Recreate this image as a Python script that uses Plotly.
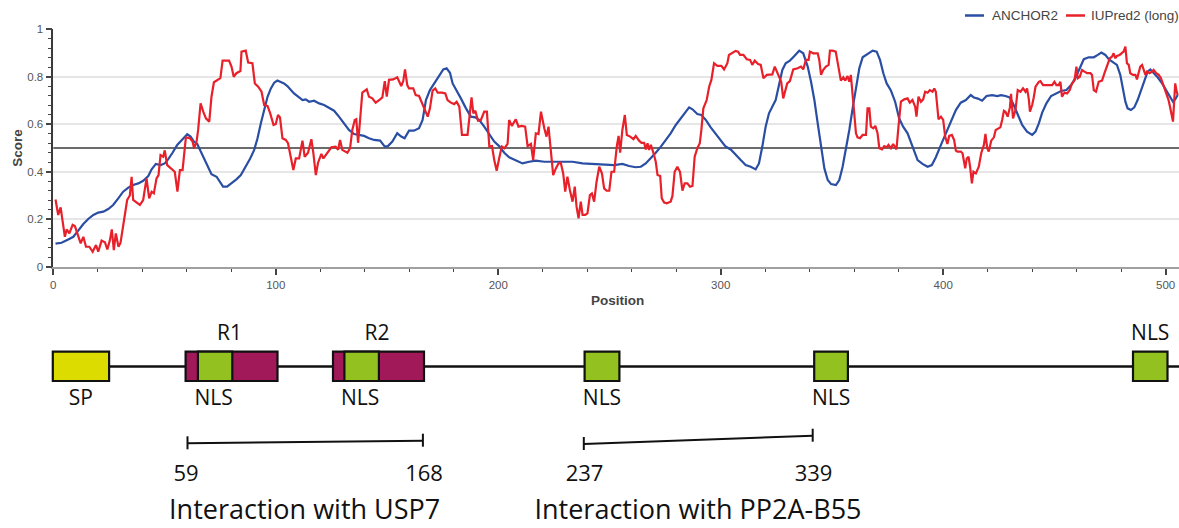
import plotly.graph_objects as go

W, H = 1179, 528

# ---------------- data ----------------
iupred_pos = [
    1.0, 2.2, 3.3, 4.2, 5.2, 6.0, 7.2, 8.7, 9.7, 10.8, 12.3, 13.5, 14.7, 16.2, 17.7, 19.2, 20.2, 21.7, 23.2, 24.3,
    25.4, 26.3, 27.2, 28.1, 29.3, 30.2, 31.7, 33.2, 34.4, 35.2, 35.9, 37.7, 38.9, 40.4, 41.9, 43.1, 44.2, 45.2, 46.4, 47.3,
    48.2, 49.4, 50.1, 51.2, 53.1, 54.6, 55.8, 56.9, 58.1, 59.6, 61.4, 62.6, 63.3, 64.4, 65.1, 66.2, 67.4, 68.6, 70.1, 71.1,
    72.2, 74.1, 75.1, 76.1, 79.0, 80.1, 81.1, 82.3, 84.1,
    84.6, 86.5, 87.6, 89.5, 90.6, 92.1, 93.6, 94.8, 96.3, 97.5, 99.0, 100.0, 101.0, 101.9, 103.0, 104.5, 105.5, 106.7, 107.9,
    109.0, 110.5, 112.0, 113.0, 114.5, 116.0, 116.9, 118.0, 119.0, 120.5, 121.4, 122.9, 125.0, 126.9, 128.0, 128.9, 129.9,
    132.2, 133.4, 134.4, 135.5, 136.2, 137.0, 137.9, 138.9, 140.9, 141.9, 143.4, 144.9, 146.9, 147.9, 149.0, 149.9, 150.9,
    152.8, 154.6, 155.4, 156.4, 157.3, 158.1, 159.1, 159.9, 161.8, 162.9, 164.4,
    167.2, 168.3, 169.3, 170.5, 171.7, 172.8, 174.7, 176.2, 177.2, 178.7, 180.2, 181.3, 182.5, 183.7, 186.2, 187.3, 188.0,
    188.8, 189.7, 190.9, 192.2, 193.7, 194.9, 196.0, 197.2, 198.2, 199.3, 200.4, 201.6, 202.8, 204.2, 204.9, 206.1, 207.9,
    209.1, 210.6, 212.1, 213.2, 214.7, 215.7, 216.9, 218.1, 219.2, 220.7, 221.7, 222.6, 223.7, 224.7, 225.9, 227.1, 228.1,
    229.2, 230.1, 231.1, 232.2, 233.4, 234.4, 235.2, 236.1, 237.1, 237.9, 239.1, 240.1, 241.2, 242.1, 243.1, 244.2, 245.4,
    246.6, 247.6, 248.7, 249.9,
    250.9, 252.1, 253.3, 254.1, 254.8, 255.8, 256.9, 257.8, 259.3, 260.8, 261.8, 263.3, 264.4, 265.6, 266.3, 267.1, 267.8,
    268.6, 269.8, 270.8, 271.6, 272.8, 273.5, 274.6, 275.7, 277.5, 278.3, 279.3, 280.5, 281.7, 282.8, 283.8, 285.0, 286.2,
    287.3, 288.3, 289.5, 290.6, 291.3, 292.2, 293.7, 294.8, 295.8, 297.0, 298.5, 300.3, 301.5, 303.0, 303.7, 305.2, 306.7,
    307.8, 308.7, 310.2, 311.7, 313.2, 314.2, 315.3, 316.8, 318.0, 319.2, 320.7, 322.2, 323.2, 324.3, 325.4, 326.5, 327.2,
    328.1, 329.2, 329.9, 331.1,
    332.6, 334.6, 336.1, 337.1, 338.3, 339.5, 340.1, 341.6, 343.6, 344.3, 345.1, 346.1, 347.3, 348.5, 349.1, 350.3, 351.7,
    352.5, 353.3, 354.0, 355.1, 356.0, 357.0, 357.8, 358.5, 359.3, 360.0, 360.8, 361.5, 362.6, 363.8, 365.3, 366.0, 366.8,
    367.5, 368.6, 369.5, 370.5, 371.3, 372.5, 373.5, 374.6, 375.4, 376.5, 377.5, 378.4, 379.0, 379.9, 381.0, 382.5, 384.0,
    385.0, 386.2, 387.4, 388.0, 388.9, 390.0, 391.0, 391.9, 393.0, 394.0, 395.2, 396.0, 396.7, 397.5, 397.9, 399.0, 400.0,
    400.9, 401.9, 402.7, 403.9, 404.9, 405.7, 406.4, 407.9, 408.7, 409.4, 409.9, 410.6, 411.4, 412.1, 412.9, 413.6, 414.7,
    416.0, 417.1, 418.3, 419.0, 419.8, 420.5, 421.6, 422.8, 423.6, 424.6, 425.7, 426.5, 427.3, 428.0, 429.0, 430.0, 430.5,
    431.4, 432.5, 433.5, 434.7, 435.9, 437.0, 437.7, 438.5, 439.0, 440.0, 440.7, 441.5, 443.0, 443.7, 444.9, 446.0, 447.5,
    449.0, 450.0, 450.9, 451.9, 452.7, 453.4, 454.5, 455.7, 456.9, 457.9, 459.0, 459.9, 460.5, 461.4, 462.4, 463.5, 464.7,
    466.2, 466.9, 467.7, 468.7, 469.9, 471.4, 472.5, 473.7, 474.9, 475.9, 476.6, 477.4, 478.1, 479.3, 480.4, 481.1, 481.9,
    482.6, 483.4, 484.1, 485.3, 486.4, 487.1, 487.9, 488.6, 489.4, 490.1, 490.9, 491.6, 492.8, 493.9, 494.6, 495.8, 496.9,
    497.9, 499.1, 500.3, 501.3, 502.1, 502.8, 503.3, 503.9, 504.3, 504.8, 505.4,
]
iupred_score = [
    0.283, 0.218, 0.25, 0.197, 0.126, 0.157, 0.14, 0.176, 0.171, 0.14, 0.098, 0.126, 0.084, 0.084, 0.063, 0.091, 0.063, 0.11, 0.103, 0.073,
    0.11, 0.157, 0.07, 0.14, 0.084, 0.1, 0.183, 0.281, 0.30, 0.379, 0.281, 0.267, 0.26, 0.281, 0.372, 0.288, 0.316, 0.309, 0.372, 0.386,
    0.47, 0.463, 0.49, 0.428, 0.414, 0.4, 0.316, 0.407, 0.407, 0.545, 0.541, 0.527, 0.499, 0.527, 0.576, 0.688, 0.653, 0.625, 0.611, 0.716,
    0.777, 0.787, 0.794, 0.868, 0.868, 0.843, 0.80, 0.815, 0.824,
    0.906, 0.91, 0.86, 0.857, 0.772, 0.758, 0.737, 0.681, 0.677, 0.646, 0.597, 0.601, 0.639, 0.629, 0.541, 0.534, 0.52, 0.461, 0.407,
    0.456, 0.456, 0.531, 0.463, 0.48, 0.537, 0.478, 0.386, 0.438, 0.475, 0.456, 0.478, 0.503, 0.506, 0.492, 0.534, 0.492,
    0.48, 0.499, 0.576, 0.618, 0.621, 0.522, 0.618, 0.733, 0.747, 0.716, 0.709, 0.691, 0.705, 0.713, 0.782, 0.716, 0.787,
    0.789, 0.798, 0.779, 0.761, 0.782, 0.831, 0.765, 0.751, 0.751, 0.723, 0.719,
    0.66, 0.632, 0.667, 0.742, 0.751, 0.733, 0.733, 0.73, 0.702, 0.691, 0.685, 0.695, 0.674, 0.555, 0.555, 0.649, 0.713,
    0.646, 0.657, 0.615, 0.618, 0.653, 0.653, 0.506, 0.508, 0.449, 0.404, 0.456, 0.506, 0.499, 0.517, 0.618, 0.593, 0.621,
    0.59, 0.593, 0.59, 0.508, 0.517, 0.449, 0.562, 0.559, 0.653, 0.583, 0.548, 0.59, 0.494, 0.386, 0.414, 0.435, 0.438,
    0.393, 0.316, 0.379, 0.323, 0.274, 0.337, 0.253, 0.204, 0.274, 0.218, 0.218, 0.225, 0.302, 0.309, 0.274, 0.358, 0.421,
    0.393, 0.33, 0.32, 0.32,
    0.4, 0.4, 0.508, 0.551, 0.48, 0.576, 0.639, 0.555, 0.548, 0.537, 0.551, 0.531, 0.522, 0.522, 0.494, 0.52, 0.492,
    0.513, 0.478, 0.442, 0.386, 0.382, 0.288, 0.27, 0.267, 0.274, 0.298, 0.4, 0.421, 0.4, 0.32, 0.351, 0.351, 0.337,
    0.34, 0.463, 0.499, 0.52, 0.576, 0.667, 0.702, 0.758, 0.787, 0.857, 0.846, 0.846, 0.831, 0.857, 0.892, 0.899, 0.909,
    0.906, 0.892, 0.892, 0.874, 0.871, 0.85, 0.868, 0.854, 0.85, 0.794, 0.808, 0.808, 0.81, 0.843, 0.817, 0.798, 0.779,
    0.709, 0.744, 0.772, 0.782,
    0.831, 0.836, 0.843, 0.831, 0.871, 0.871, 0.906, 0.899, 0.899, 0.871, 0.808, 0.829, 0.843, 0.85, 0.91, 0.91, 0.906,
    0.864, 0.829, 0.784, 0.798, 0.784, 0.803, 0.779, 0.808, 0.723, 0.653, 0.562, 0.545, 0.541, 0.555, 0.555, 0.667, 0.667,
    0.59, 0.583, 0.593, 0.562, 0.499, 0.494, 0.508, 0.503, 0.513, 0.499, 0.517, 0.499, 0.494, 0.59, 0.695, 0.705, 0.709,
    0.691, 0.702, 0.674, 0.632, 0.716, 0.695, 0.705, 0.737, 0.733, 0.744, 0.737, 0.751, 0.737, 0.66, 0.621, 0.632, 0.618,
    0.548, 0.517, 0.551, 0.555, 0.534, 0.489, 0.485, 0.485, 0.478, 0.449, 0.414, 0.456, 0.463, 0.421, 0.351, 0.4, 0.393,
    0.421, 0.478, 0.513, 0.559, 0.499, 0.485, 0.531, 0.545, 0.576, 0.583, 0.587, 0.618, 0.657, 0.653, 0.632, 0.671, 0.728,
    0.625, 0.66, 0.744, 0.737, 0.751, 0.737, 0.751, 0.705, 0.653, 0.681, 0.713, 0.758, 0.779, 0.782, 0.765, 0.765, 0.768,
    0.765, 0.779, 0.765, 0.765, 0.779, 0.716, 0.733, 0.73, 0.744, 0.772, 0.784, 0.843, 0.794, 0.80, 0.829, 0.822, 0.815,
    0.815, 0.808, 0.744, 0.737, 0.779, 0.784, 0.815, 0.843, 0.878, 0.885, 0.899, 0.878, 0.888, 0.892, 0.899, 0.906, 0.927,
    0.857, 0.85, 0.815, 0.808, 0.808, 0.789, 0.815, 0.843, 0.85, 0.829, 0.808, 0.822, 0.815, 0.822, 0.829, 0.815, 0.808,
    0.794, 0.758, 0.73, 0.702, 0.667, 0.625, 0.611, 0.709, 0.772, 0.744, 0.723,
]

anchor_pos = [
    1.0, 3.7, 6.7, 9.0, 11.2, 13.5, 15.7, 18.0, 20.2, 22.5, 24.7, 26.9, 29.2, 31.4, 33.7, 35.9, 38.2, 40.4, 42.7, 44.2,
    46.1, 48.2, 50.1, 51.6, 53.6, 55.7, 58.1, 60.2, 61.7, 63.2, 64.7, 66.6, 68.9, 71.1, 73.4, 74.9, 76.3, 78.1, 80.1, 82.3,
    84.3, 86.5, 88.5, 90.3, 91.8, 93.3, 94.8, 96.3, 97.8, 99.3, 100.7, 102.2, 103.7, 105.2, 106.7, 108.2, 110.5, 112.0,
    113.5, 115.0, 117.2, 119.5, 121.7, 124.0, 126.2, 128.4, 130.7, 132.9, 135.2, 137.4, 139.7, 141.9, 144.2, 146.9, 149.0,
    150.4, 152.4, 154.6, 156.4, 157.9, 159.9, 162.1, 164.4,
    166.0, 167.5, 169.3, 171.3, 173.2, 175.3, 176.8, 178.3, 179.5, 181.3, 183.2, 185.5, 187.7, 189.7, 191.5, 193.7, 196.0,
    198.2, 200.4, 202.7, 204.9, 207.9, 210.9, 213.9, 216.9, 220.7, 224.4, 228.9, 233.4, 237.9, 242.4, 246.9,
    252.1, 255.8, 258.8, 261.8, 264.1, 266.3, 268.6, 270.8, 273.1, 275.3, 277.5, 279.8, 282.0, 284.3, 285.8, 287.3, 289.5,
    291.3, 293.3, 295.5, 297.8, 300.0, 302.2, 304.5, 306.7, 309.0, 311.2, 313.5, 315.7, 317.2, 318.7, 320.2, 321.7, 323.2,
    324.7, 326.2, 327.7, 329.2, 331.1, 332.9,
    335.3, 337.1, 339.1, 340.6, 342.1, 343.6, 345.1, 346.6, 348.1, 349.6, 351.8, 353.3, 354.8, 356.3, 357.8, 359.3, 360.8,
    362.3, 363.8, 366.0, 368.3, 370.1, 371.6, 373.1, 374.6, 376.5, 378.4, 380.2, 382.0, 384.0, 385.5, 387.0, 388.5, 390.7,
    393.0, 394.9, 396.7, 399.0, 401.2, 403.4, 405.7, 407.9, 410.2, 412.4,
    413.8, 415.6, 417.5, 419.5, 422.0, 424.3, 426.0, 428.0, 429.9, 431.4, 433.2, 435.5, 437.7, 440.0, 441.5, 443.0, 444.5,
    446.4, 448.5, 450.9, 453.0, 455.4, 457.5, 459.4, 461.4, 463.2, 465.4, 467.7, 469.5, 471.1, 472.9, 474.4, 476.6, 478.1,
    479.6, 480.8, 481.9, 482.9, 484.4, 485.9, 487.4, 488.9, 490.4, 491.9, 493.1, 494.6, 496.4, 498.4, 500.3, 502.1, 503.3,
    504.3, 505.4,
]
anchor_score = [
    0.097, 0.101, 0.115, 0.126, 0.152, 0.18, 0.201, 0.218, 0.228, 0.232, 0.243, 0.26, 0.288, 0.316, 0.333, 0.344, 0.351, 0.362, 0.382, 0.41,
    0.433, 0.428, 0.435, 0.452, 0.48, 0.513, 0.537, 0.558, 0.548, 0.527, 0.517, 0.478, 0.428, 0.39, 0.379, 0.358, 0.337, 0.337, 0.351, 0.368,
    0.386, 0.421, 0.456, 0.492, 0.541, 0.604, 0.667, 0.716, 0.751, 0.775, 0.784, 0.779, 0.772, 0.761, 0.744, 0.73, 0.713, 0.702,
    0.705, 0.695, 0.699, 0.688, 0.681, 0.667, 0.657, 0.632, 0.601, 0.576, 0.559, 0.555, 0.551, 0.541, 0.534, 0.531, 0.506,
    0.508, 0.527, 0.562, 0.548, 0.541, 0.573, 0.573, 0.583,
    0.618, 0.702, 0.744, 0.772, 0.803, 0.831, 0.836, 0.817, 0.772, 0.744, 0.709, 0.667, 0.632, 0.629, 0.618, 0.59, 0.555,
    0.527, 0.508, 0.48, 0.461, 0.447, 0.435, 0.442, 0.447, 0.442, 0.442, 0.442, 0.442, 0.435, 0.433, 0.428,
    0.428, 0.433, 0.424, 0.419, 0.421, 0.435, 0.456, 0.48, 0.506, 0.534, 0.562, 0.597, 0.625, 0.657, 0.671, 0.663, 0.643,
    0.639, 0.618, 0.587, 0.559, 0.531, 0.506, 0.494, 0.47, 0.449, 0.428, 0.421, 0.41, 0.435, 0.506, 0.59, 0.646, 0.674,
    0.702, 0.765, 0.829, 0.857, 0.868, 0.885,
    0.91, 0.899, 0.843, 0.779, 0.702, 0.604, 0.499, 0.414, 0.365, 0.348, 0.344, 0.365, 0.421, 0.492, 0.576, 0.667, 0.758,
    0.836, 0.882, 0.896, 0.91, 0.906, 0.871, 0.815, 0.772, 0.742, 0.695, 0.625, 0.59, 0.562, 0.527, 0.485, 0.449, 0.433,
    0.421, 0.428, 0.461, 0.513, 0.562, 0.611, 0.66, 0.691, 0.702, 0.723,
    0.713, 0.708, 0.699, 0.719, 0.723, 0.719, 0.723, 0.719, 0.713, 0.688, 0.646, 0.597, 0.569, 0.555, 0.569, 0.604, 0.649,
    0.688, 0.719, 0.73, 0.74, 0.744, 0.765, 0.794, 0.836, 0.874, 0.882, 0.882, 0.892, 0.902, 0.892, 0.874, 0.86, 0.85,
    0.808, 0.751, 0.695, 0.667, 0.66, 0.671, 0.702, 0.742, 0.787, 0.822, 0.831, 0.817, 0.798, 0.772, 0.742, 0.713, 0.695,
    0.705, 0.723,
]

series_names = ["ANCHOR2", "IUPred2 (long)"]
threshold = 0.5
x_ticks = [0, 100, 200, 300, 400, 500]
y_ticks = [0, 0.2, 0.4, 0.6, 0.8, 1.0]
y_tick_text = ["0", "0.2", "0.4", "0.6", "0.8", "1"]

# schematic protein map labels and interaction ranges (residues)
sp_label = "SP"
repeat_labels = ["R1", "R2"]
nls_label = "NLS"
interaction_start = [59, 237]
interaction_end = [168, 339]
interaction_partner = ["USP7", "PP2A-B55"]

# ---------------- layout constants (schematic geometry, diagram units) ----------------
SP_BOX = (52.8, 109.1)
REPEAT_BOXES = [(185.6, 277.5), (333.0, 424.0)]
NLS_BOXES = [(197.9, 232.3), (344.4, 378.9), (584.6, 619.4), (814.2, 847.9), (1133.0, 1167.5)]
NLS_LABEL_ABOVE = [False, False, False, False, True]
NLS_LABEL_DX = [-1.5, -1.5, 0.0, 0.0, 0.0]
REPEAT_LABEL_X = [229.6, 377.0]
BRACKETS = [((187.5, 443.3), (422.9, 440.7)), ((583.8, 444.0), (812.7, 435.7))]
BRACKET_LABEL_X = [(186.0, 424.0), (584.5, 813.5)]
PARTNER_X = [304.7, 698.0]
ROW_Y = 366.5
BOX_TOP, BOX_BOT = 351.7, 381.0
LABEL_ABOVE_Y, LABEL_BELOW_Y = 335.0, 399.5
NUMBER_Y, PARTNER_Y = 475.0, 512.0

COL_BLUE = "#2a4ea3"
COL_RED = "#e8202a"
COL_SP = "#dcdc00"
COL_REPEAT = "#a2195a"
COL_NLS = "#93c11f"
BLACK = "#111111"

PLOT_L, PLOT_T, PLOT_B = 53.3, 29.3, 266.7
CHART_FONT = "Liberation Sans, Arial, sans-serif"
MAP_FONT = "Open Sans, Noto Sans, sans-serif"

fig = go.Figure()
fig.add_trace(go.Scatter(x=anchor_pos, y=anchor_score, mode="lines", name=series_names[0],
                         line=dict(color=COL_BLUE, width=2.2), showlegend=False))
fig.add_trace(go.Scatter(x=iupred_pos, y=iupred_score, mode="lines", name=series_names[1],
                         line=dict(color=COL_RED, width=2.2), showlegend=False))

shapes = []
annotations = []
shapes.append(dict(type="line", xref="x domain", yref="y", x0=0, x1=1, y0=threshold, y1=threshold,
                   line=dict(color="#3a3a3a", width=1.4), layer="below"))

# legend (drawn by hand to match the compact legend of the reference)
leg_y = 1 - 15.5 / H
legend_items = [(965, 984, 990, COL_BLUE, series_names[0]), (1066, 1085, 1089, COL_RED, series_names[1])]
for lx0, lx1, tx, col, name in legend_items:
    shapes.append(dict(type="line", xref="paper", yref="paper", x0=lx0 / W, x1=lx1 / W, y0=leg_y, y1=leg_y,
                       line=dict(color=col, width=2.5)))
    annotations.append(dict(xref="paper", yref="paper", x=tx / W, y=leg_y, text=name, showarrow=False,
                            xanchor="left", yanchor="middle",
                            font=dict(family=CHART_FONT, size=13.5, color="#444")))

annotations.append(dict(xref="paper", yref="paper", x=16.7 / W, y=1 - 148 / H, text="<b>Score</b>",
                        textangle=-90, showarrow=False, xanchor="center", yanchor="middle",
                        font=dict(family=CHART_FONT, size=13.5, color="#444")))
annotations.append(dict(xref="paper", yref="paper", x=617 / W, y=1 - 300 / H, text="<b>Position</b>",
                        showarrow=False, xanchor="center", yanchor="middle",
                        font=dict(family=CHART_FONT, size=13.5, color="#444")))

# ---------------- schematic diagram ----------------
shapes.append(dict(type="line", xref="x2", yref="y2", x0=sum(SP_BOX) / 2, x1=W, y0=ROW_Y, y1=ROW_Y,
                   line=dict(color=BLACK, width=2.5)))
shapes.append(dict(type="rect", xref="x2", yref="y2", x0=SP_BOX[0], x1=SP_BOX[1], y0=BOX_TOP, y1=BOX_BOT,
                   fillcolor=COL_SP, line=dict(color=BLACK, width=2.2)))
for x0, x1 in REPEAT_BOXES:
    shapes.append(dict(type="rect", xref="x2", yref="y2", x0=x0, x1=x1, y0=BOX_TOP, y1=BOX_BOT,
                       fillcolor=COL_REPEAT, line=dict(color=BLACK, width=2.2)))
for x0, x1 in NLS_BOXES:
    shapes.append(dict(type="rect", xref="x2", yref="y2", x0=x0, x1=x1, y0=BOX_TOP, y1=BOX_BOT,
                       fillcolor=COL_NLS, line=dict(color=BLACK, width=2.2)))
for (p0, p1) in BRACKETS:
    shapes.append(dict(type="line", xref="x2", yref="y2", x0=p0[0], x1=p1[0], y0=p0[1], y1=p1[1],
                       line=dict(color=BLACK, width=2)))
    for (bx, by) in (p0, p1):
        shapes.append(dict(type="line", xref="x2", yref="y2", x0=bx, x1=bx, y0=by - 7, y1=by + 6,
                           line=dict(color=BLACK, width=2)))

txt_x, txt_y, txt_s, txt_size = [], [], [], []
txt_x.append(sum(SP_BOX) / 2); txt_y.append(LABEL_BELOW_Y); txt_s.append(sp_label); txt_size.append(21)
for rx, lab in zip(REPEAT_LABEL_X, repeat_labels):
    txt_x.append(rx); txt_y.append(LABEL_ABOVE_Y); txt_s.append(lab); txt_size.append(21)
for (x0, x1), above, dx in zip(NLS_BOXES, NLS_LABEL_ABOVE, NLS_LABEL_DX):
    txt_x.append((x0 + x1) / 2 + dx); txt_y.append(LABEL_ABOVE_Y if above else LABEL_BELOW_Y)
    txt_s.append(nls_label); txt_size.append(21)
for (lx0, lx1), s, e in zip(BRACKET_LABEL_X, interaction_start, interaction_end):
    txt_x += [lx0, lx1]; txt_y += [NUMBER_Y, NUMBER_Y]; txt_s += [str(s), str(e)]; txt_size += [22, 22]
for px, partner in zip(PARTNER_X, interaction_partner):
    txt_x.append(px); txt_y.append(PARTNER_Y); txt_s.append("Interaction with " + partner); txt_size.append(27)

fig.add_trace(go.Scatter(x=txt_x, y=txt_y, text=txt_s, mode="text", textposition="middle center",
                         textfont=dict(family=MAP_FONT, size=txt_size, color=BLACK), cliponaxis=False,
                         xaxis="x2", yaxis="y2", showlegend=False, hoverinfo="skip"))

axis_font = dict(family=CHART_FONT, size=11.5, color="#555")
fig.update_layout(
    width=W, height=H, autosize=False,
    margin=dict(l=0, r=0, t=0, b=0, pad=0),
    paper_bgcolor="white", plot_bgcolor="rgba(0,0,0,0)",
    showlegend=False,
    shapes=shapes, annotations=annotations,
    xaxis=dict(domain=[PLOT_L / W, 1], range=[0, 506], anchor="y", automargin=False,
               showgrid=False, zeroline=False, showline=True, linecolor="#a0a0a0", linewidth=2,
               ticks="outside", ticklen=6, tickwidth=1.5, tickcolor="#444",
               tickvals=x_ticks, tickfont=axis_font,
               minor=dict(dtick=20, tick0=0, ticks="outside", ticklen=3.5, tickwidth=1.2, tickcolor="#444",
                          showgrid=False)),
    yaxis=dict(domain=[1 - PLOT_B / H, 1 - PLOT_T / H], range=[0, 1], anchor="x", automargin=False,
               showgrid=True, gridcolor="#e6e6e6", gridwidth=1.5, zeroline=False,
               showline=True, linecolor="#3a3a3a", linewidth=1.5,
               ticks="outside", ticklen=6, tickwidth=1.5, tickcolor="#444",
               tickvals=y_ticks, ticktext=y_tick_text, tickfont=axis_font,
               minor=dict(dtick=0.04, tick0=0, ticks="outside", ticklen=4, tickwidth=1.2, tickcolor="#444",
                          showgrid=False)),
    xaxis2=dict(domain=[0, 1], range=[0, W], anchor="y2", visible=False, fixedrange=True),
    yaxis2=dict(domain=[0, 1 - 306 / H], range=[H, 306], anchor="x2", visible=False, fixedrange=True),
)

# pin the figure to the page's top-left corner so it fills the window exactly
post = ("document.documentElement.style.margin='0';document.body.style.margin='0';"
        "document.documentElement.style.overflow='hidden';document.body.style.overflow='hidden';"
        "var gd=document.getElementById('{plot_id}');gd.style.position='absolute';"
        "gd.style.left='0px';gd.style.top='0px';")
fig.write_html("out.html", config={"displayModeBar": False}, post_script=post)
